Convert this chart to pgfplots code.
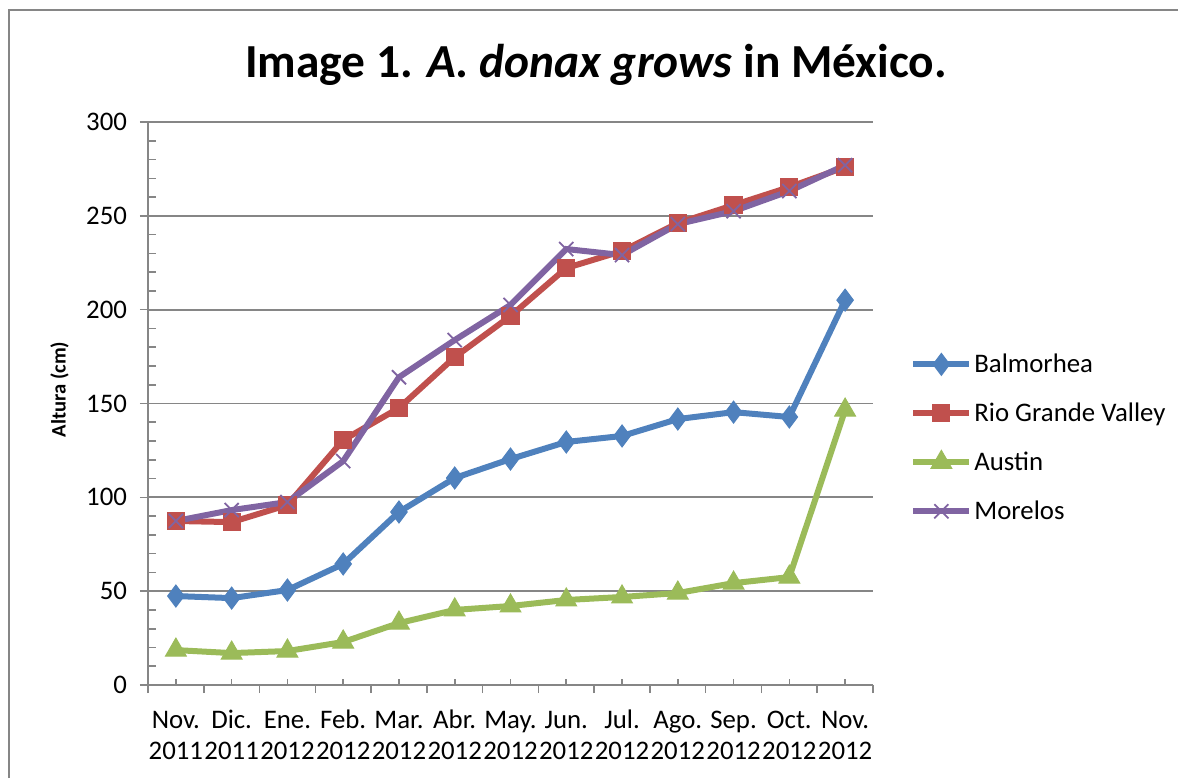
\documentclass[border=0pt]{standalone}
\usepackage{pgfplots}
\pgfplotsset{compat=1.18}
\usepackage{fontspec}
\setmainfont{Carlito}
\definecolor{cblue}{RGB}{79,129,189}
\definecolor{cred}{RGB}{192,80,77}
\definecolor{cgreen}{RGB}{155,187,89}
\definecolor{cpurple}{RGB}{128,100,162}
\definecolor{axgray}{RGB}{134,134,134}
\begin{document}
\begin{tikzpicture}
\useasboundingbox (0,0) rectangle (589pt,389pt);
\draw[axgray, line width=1pt] (4.5pt,0) -- (4.5pt,384pt) -- (589pt,384pt);
\node[font=\fontsize{23.7}{28}\selectfont\bfseries, anchor=base] at (298pt,350pt) {Image 1. \textit{A. donax grows} in México.};
\begin{axis}[
  at={(74pt,46.5pt)}, anchor=south west,
  scale only axis, width=362.5pt, height=281.5pt,
  xmin=-0.5, xmax=12.5, ymin=0, ymax=300,
  axis x line*=bottom, axis y line*=left,
  axis line style={axgray, line width=0.9pt},
  xtick={-0.5,0.5,1.5,2.5,3.5,4.5,5.5,6.5,7.5,8.5,9.5,10.5,11.5,12.5},
  xticklabels={},
  x tick style={axgray, line width=0.8pt},
  extra x ticks={0,...,12},
  extra x tick labels={{\strut Nov.\\2011},{\strut Dic.\\2011},{\strut Ene.\\2012},{\strut Feb.\\2012},{\strut Mar.\\2012},{\strut Abr.\\2012},{\strut May.\\2012},{\strut Jun.\\2012},{\strut Jul.\\2012},{\strut Ago.\\2012},{\strut Sep.\\2012},{\strut Oct.\\2012},{\strut Nov.\\2012}},
  extra x tick style={tick align=inside, major tick length=3pt,
     tick label style={align=center, anchor=north, font=\fontsize{13.4}{15.3}\selectfont, yshift=-7.5pt},
     tick style={axgray, line width=0.8pt}},
  ytick={0,50,...,300},
  y tick label style={font=\fontsize{13.4}{15}\selectfont, xshift=-3pt},
  y tick style={axgray, line width=0.8pt},
  tick align=outside, major tick length=4pt,
  extra y ticks={10,20,30,40,60,70,80,90,110,120,130,140,160,170,180,190,210,220,230,240,260,270,280,290},
  extra y tick labels={},
  extra y tick style={tick align=inside, major tick length=4pt, ymajorgrids=false, tick style={axgray, line width=0.8pt}},
  ymajorgrids, grid style={axgray, line width=0.9pt},
  /pgf/number format/assume math mode=true,
  ylabel={\bfseries Altura (cm)},
  ylabel style={font=\fontsize{10.3}{12}\selectfont, at={(ticklabel cs:0.525)}, anchor=center, yshift=6pt},
  every axis plot/.append style={line width=3pt},
  legend style={at={(1.051,0.439)}, anchor=west, draw=none, fill=none,
    font=\fontsize{13.4}{15}\selectfont, row sep=11.7pt, inner sep=0pt,
    nodes={inner sep=1pt}},
  legend cell align=left,
  legend image code/.code={\draw[mark repeat=2,mark phase=2] plot coordinates {(0pt,0pt) (14pt,0pt) (28pt,0pt)};},
]
\addplot[color=cblue, mark=diamond*, mark size=5.5pt, mark options={line width=0.5pt}] coordinates {
(0,47.4) (1,46.3) (2,50.6) (3,64.5) (4,92.2) (5,110.3) (6,120.4) (7,129.5) (8,132.7) (9,141.7) (10,145.4) (11,142.8) (12,205.1)};
\addlegendentry{Balmorhea}
\addplot[color=cred, mark=square*, mark size=4.3pt, mark options={line width=0.5pt}] coordinates {
(0,87.4) (1,86.8) (2,95.9) (3,130.5) (4,147.6) (5,174.7) (6,196.6) (7,222.2) (8,231.2) (9,246.1) (10,255.7) (11,265.3) (12,276)};
\addlegendentry{Rio Grande Valley}
\addplot[color=cgreen, mark=triangle*, mark size=6pt, mark options={line width=0.5pt}] coordinates {
(0,18.6) (1,17) (2,18.1) (3,22.9) (4,33) (5,40) (6,42.1) (7,45.3) (8,46.9) (9,49) (10,54.3) (11,57.5) (12,146.5)};
\addlegendentry{Austin}
\addplot[color=cpurple, mark=x, mark size=5pt, mark options={line width=0.9pt}] coordinates {
(0,87.4) (1,93.2) (2,97.5) (3,119.3) (4,164) (5,183.8) (6,202.5) (7,232.3) (8,229.1) (9,245.6) (10,252.5) (11,263.2) (12,277)};
\addlegendentry{Morelos}
\end{axis}
\end{tikzpicture}
\end{document}
